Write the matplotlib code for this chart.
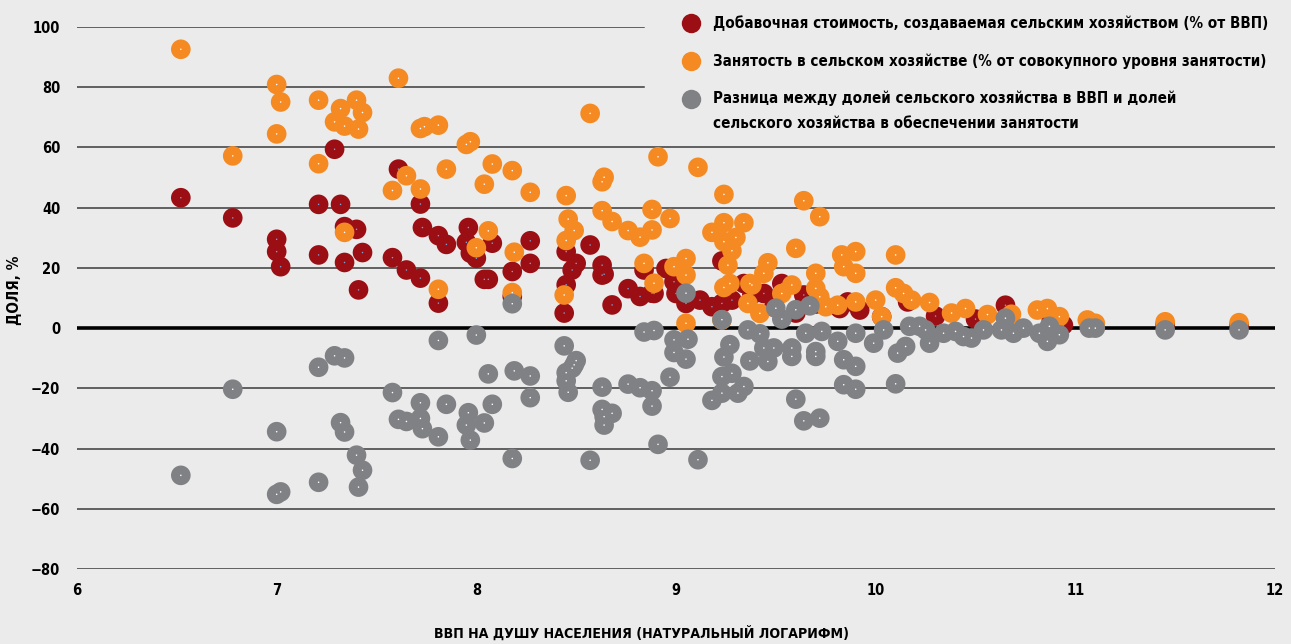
import numpy as np
import matplotlib
matplotlib.use("Agg")
import matplotlib.pyplot as plt
from matplotlib import font_manager

# Value added by agriculture (% of GDP), by log GDP per capita
x_va = [6.52, 6.78, 7.00, 7.00, 7.02, 7.21, 7.21, 7.29, 7.32, 7.34, 7.40, 7.34, 7.43, 7.41,
        7.61, 7.58, 7.65, 7.72, 7.72, 7.73, 7.81, 7.85, 7.81, 7.96, 7.95, 7.97, 8.00, 8.04,
        8.06, 8.08, 8.18, 8.18, 8.27, 8.27, 8.44, 8.45, 8.45, 8.48, 8.50, 8.57, 8.63, 8.63,
        8.64, 8.68, 8.76, 8.82, 8.84, 8.88, 8.89, 8.95, 8.99, 9.00, 9.05, 9.12, 9.18, 9.23,
        9.23, 9.28, 9.34, 9.44, 9.49, 9.53, 9.60, 9.64, 9.82, 9.86, 9.92, 10.03, 10.16,
        10.65, 10.88, 10.94, 9.38, 9.70, 10.30, 10.50, 11.07, 11.45, 11.82]
va = [43.3, 36.6, 29.5, 25.4, 20.4, 41.1, 24.3, 59.4, 41.1, 33.7, 32.8, 21.8, 25.1, 12.7,
      52.8, 23.4, 19.3, 41.2, 16.6, 33.4, 30.7, 27.8, 8.3, 33.4, 28.5, 24.9, 23.2, 16.2,
      16.2, 28.2, 18.8, 10.5, 29.0, 21.5, 5.0, 25.4, 14.4, 19.3, 21.5, 27.6, 20.9, 17.6,
      17.9, 7.7, 13.1, 10.5, 19.3, 11.6, 11.5, 19.8, 15.4, 11.5, 8.2, 9.3, 7.1, 8.2,
      22.3, 9.3, 14.8, 11.5, 7.0, 14.8, 5.0, 11.0, 6.5, 8.7, 6.0, 3.8, 8.7,
      7.6, 2.7, 1.0, 11.0, 8.0, 4.0, 3.0, 1.5, 1.2, 0.8]

# Employment in agriculture (% of total employment)
x_emp = [6.52, 6.78, 7.00, 7.02, 7.00, 7.21, 7.21, 7.32, 7.40, 7.43, 7.29, 7.34, 7.41, 7.34,
         7.61, 7.58, 7.65, 7.72, 7.72, 7.74, 7.81, 7.85, 7.81, 7.95, 7.97, 8.04, 8.08, 8.00,
         8.06, 8.18, 8.19, 8.18, 8.27, 8.45, 8.46, 8.49, 8.45, 8.44, 8.57, 8.63, 8.64, 8.63,
         8.68, 8.76, 8.82, 8.88, 8.88, 8.91, 8.84, 8.89, 8.97, 9.11, 9.24, 9.64, 9.72, 9.24,
         9.34, 9.18, 9.24, 9.30, 9.28, 9.26, 9.60, 9.05, 8.99, 9.05, 9.05, 9.23, 9.46, 9.44,
         9.58, 9.53, 9.38, 9.27, 9.24, 9.37, 9.83, 9.90, 9.84, 9.90, 10.10, 9.70, 9.70, 9.72,
         9.36, 9.42, 9.81, 9.90, 10.00, 10.10, 10.14, 10.18, 10.27, 10.38, 10.45, 10.56,
         10.68, 10.81, 10.86, 10.92, 11.06, 11.10, 11.45, 11.82, 9.75, 10.03]
emp = [92.6, 57.2, 80.9, 75.1, 64.5, 75.7, 54.6, 72.9, 75.7, 71.6, 68.5, 67.1, 66.1, 31.8,
       83.0, 45.7, 50.6, 46.2, 66.3, 66.9, 67.4, 52.8, 12.9, 61.0, 61.9, 47.8, 54.5, 26.7,
       32.3, 52.3, 25.2, 11.8, 45.1, 44.0, 36.2, 32.4, 29.1, 11.0, 71.3, 48.6, 50.1, 39.0,
       35.4, 32.4, 30.2, 32.6, 39.4, 56.9, 21.5, 14.9, 36.4, 53.4, 44.4, 42.3, 37.0, 35.0,
       35.0, 31.8, 28.7, 30.1, 25.7, 20.9, 26.5, 23.1, 20.4, 17.6, 1.6, 2.7, 21.7, 18.2,
       14.3, 11.5, 14.3, 14.8, 13.5, 14.8, 24.3, 25.4, 20.4, 18.2, 24.3, 18.2, 13.2, 10.4,
       8.2, 4.9, 7.6, 8.7, 9.3, 13.4, 11.5, 9.3, 8.5, 5.0, 6.5, 4.5,
       4.6, 6.0, 6.5, 3.8, 2.7, 1.6, 2.1, 1.8, 7.1, 3.8]

# Difference between agriculture share in GDP and share in employment
x_diff = [6.52, 6.78, 7.00, 7.00, 7.02, 7.21, 7.21, 7.29, 7.34, 7.32, 7.34, 7.40, 7.43, 7.41,
          7.58, 7.61, 7.65, 7.72, 7.72, 7.73, 7.81, 7.81, 7.85, 8.00, 7.96, 7.95, 7.97, 8.04,
          8.06, 8.08, 8.18, 8.19, 8.18, 8.27, 8.27, 8.44, 8.45, 8.45, 8.46, 8.49, 8.50, 8.48,
          8.57, 8.63, 8.63, 8.64, 8.64, 8.68, 8.76, 8.82, 8.88, 8.88, 8.84, 8.89, 8.91, 9.05,
          9.23, 8.99, 9.06, 8.99, 9.05, 8.97, 9.11, 9.18, 9.23, 9.23, 9.28, 9.31, 9.34, 9.24,
          9.27, 9.37, 9.36, 9.42, 9.44, 9.49, 9.46, 9.50, 9.53, 9.58, 9.58, 9.60, 9.67, 9.65,
          9.70, 9.70, 9.73, 9.60, 9.64, 9.72, 9.81, 9.84, 9.90, 9.84, 9.90, 9.90, 9.99, 10.04,
          10.10, 10.11, 10.15, 10.17, 10.22, 10.27, 10.25, 10.34, 10.40, 10.44, 10.48, 10.54,
          10.63, 10.65, 10.69, 10.74, 10.82, 10.86, 10.87, 10.92, 11.07, 11.10, 11.45, 11.82]
diff = [-48.9, -20.3, -34.4, -55.2, -54.4, -13.0, -51.2, -9.2, -9.9, -31.4, -34.5, -42.2, -47.2, -52.8,
        -21.4, -30.3, -31.0, -24.8, -30.0, -33.4, -4.1, -36.1, -25.3, -2.3, -28.1, -32.2, -37.2, -31.5,
        -15.2, -25.3, 8.1, -14.2, -43.3, -15.9, -23.1, -5.9, -14.8, -17.5, -21.3, -12.2, -10.8, -13.3,
        -43.9, -19.6, -27.0, -32.2, -29.4, -28.3, -18.6, -19.8, -20.8, -25.9, -1.3, -0.8, -38.6, 11.6,
        2.8, -3.9, -3.7, -8.1, -10.3, -16.3, -43.7, -24.0, -21.6, -16.1, -15.0, -21.6, -19.4, -9.6,
        -5.5, -10.9, -0.6, -1.9, -6.6, -6.6, -11.1, 6.6, 3.0, -6.6, -9.4, 6.1, 7.4, -1.7,
        -7.8, -9.4, -1.1, -23.6, -30.8, -29.9, -4.4, -10.5, -12.7, -18.8, -20.3, -1.7, -5.0, -0.6,
        -18.5, -8.3, -6.1, 0.6, 0.6, -5.0, -0.6, -1.7, -1.1, -2.8, -3.3, -0.6,
        -0.6, 3.3, -1.7, 0.0, -1.7, -4.4, 0.6, -2.2, 0.0, 0.0, -0.6, -0.6]

y_ticks = [100, 80, 60, 40, 20, 0, -20, -40, -60, -80]
x_ticks = [6, 7, 8, 9, 10, 11, 12]

legend_labels = [
    "Добавочная стоимость, создаваемая сельским хозяйством (% от ВВП)",
    "Занятость в сельском хозяйстве (% от совокупного уровня занятости)",
    "Разница между долей сельского хозяйства в ВВП и долей\nсельского хозяйства в обеспечении занятости",
]
colors = ["#9b0e13", "#f58a22", "#808184"]
dot_colors = ["#7f9fd0", "#ffffff", "#ffffff"]

# look for a narrow bold face, the original uses a condensed one
cond = sorted(
    f.fname for f in font_manager.fontManager.ttflist
    if ("Condensed" in f.fname or "Narrow" in f.fname)
    and "Bold" in f.fname and "Oblique" not in f.fname and "Italic" not in f.fname
)
scale = 1.0
if cond:
    base = dict(fname=cond[0])
else:
    base = dict(family="DejaVu Sans", weight="bold")
    scale = 0.9


def font(size):
    fp = font_manager.FontProperties(**base)
    fp.set_size(size * scale)
    return fp


fp_tick = font(10.5)
fp_xlab = font(10.2)
fp_ylab = font(11)
fp_leg = font(10.9)

bg = "#ebebeb"
fig = plt.figure(figsize=(12.91, 6.44), dpi=100, facecolor=bg)
W, H = 1291, 644
ax = fig.add_axes([77 / W, 1 - 569 / H, (1275 - 77) / W, (569 - 27) / H])
ax.set_facecolor(bg)
ax.set_xlim(6, 12)
ax.set_ylim(-80, 100)

# gridlines, the top two stop before the legend
legend_cut = (644 - 77) / (1275 - 77)
for t in y_ticks:
    if t == 0:
        continue
    xmax = legend_cut if t >= 80 else 1
    ax.axhline(t, xmin=0, xmax=xmax, color="#3a3a3a", lw=1.1, zorder=1)
ax.axhline(0, color="black", lw=2.6, zorder=2)

series = [(x_va, va), (x_emp, emp), (x_diff, diff)]
for i, (xs, ys) in enumerate(series):
    ax.scatter(xs, ys, s=200, color=colors[i], edgecolors="none", zorder=3 + 2 * i, clip_on=False)
    ax.scatter(xs, ys, s=1.2, color=dot_colors[i], edgecolors="none", zorder=4 + 2 * i, clip_on=False)

ax.set_yticks(y_ticks)
ax.set_yticklabels(["\u2212" + str(-t) if t < 0 else str(t) for t in y_ticks], fontproperties=fp_tick)
ax.set_xticks(x_ticks)
ax.set_xticklabels([str(t) for t in x_ticks], fontproperties=fp_tick)
ax.tick_params(axis="both", length=0)
ax.tick_params(axis="y", pad=12)
ax.tick_params(axis="x", pad=10)
for s in ax.spines.values():
    s.set_visible(False)

fig.text(641 / W, 1 - 633 / H, "ВВП НА ДУШУ НАСЕЛЕНИЯ (НАТУРАЛЬНЫЙ ЛОГАРИФМ)",
         ha="center", va="center", fontproperties=fp_xlab)
fig.text(15 / W, 1 - 290 / H, "ДОЛЯ, %", rotation=90, ha="center", va="center",
         fontproperties=fp_ylab)

# legend
legend_y = [23, 61, 99]
for i, lab in enumerate(legend_labels):
    yy = 1 - legend_y[i] / H
    fig.add_artist(plt.Line2D([691 / W], [yy], marker="o", markersize=14, color=colors[i],
                              markeredgewidth=0, linestyle="none"))
    if "\n" in lab:
        fig.text(713 / W, yy - 12 / H, lab, ha="left", va="center", fontproperties=fp_leg,
                 linespacing=1.8)
    else:
        fig.text(713 / W, yy, lab, ha="left", va="center", fontproperties=fp_leg)

fig.savefig("out.png", dpi=100, facecolor=bg)
